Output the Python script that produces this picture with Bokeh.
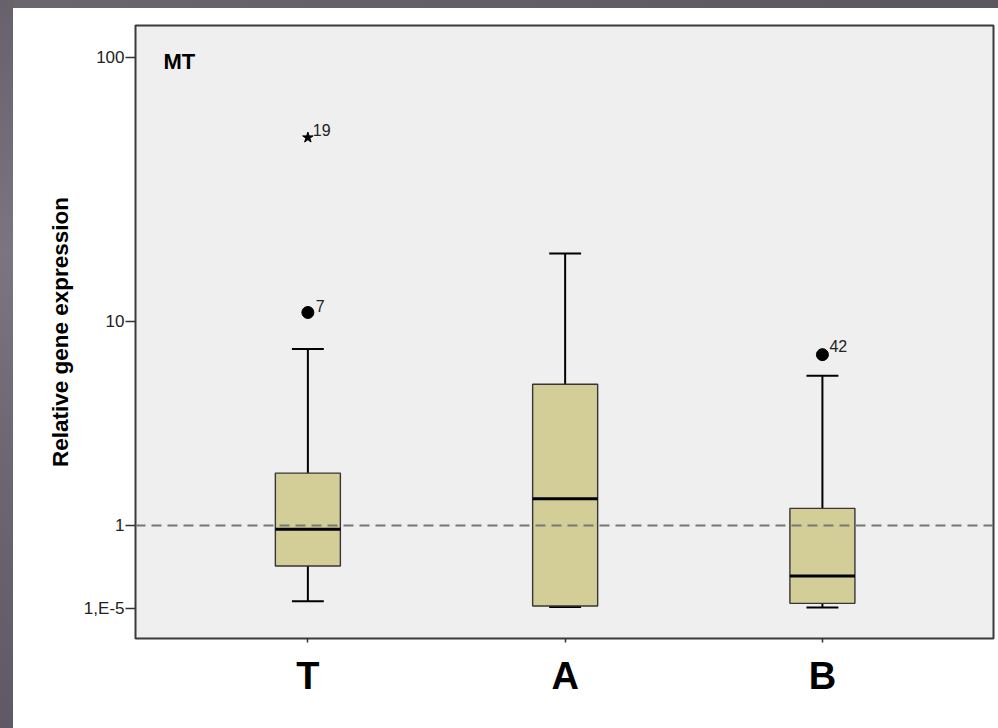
import numpy as np
from bokeh.plotting import figure
from bokeh.models import (Range1d, FixedTicker, CustomJSTickFormatter, Span,
                          Label, Spacer)
from bokeh.layouts import row, column
from bokeh.embed import file_html
from bokeh.resources import INLINE
from bokeh.core.properties import value

# ---- data -------------------------------------------------------------
groups = ["T", "A", "B"]
whisker_low = [0.059, 0.0106, 0.0046]
q1 = [0.423, 0.018, 0.041]
median = [0.935, 1.50, 0.309]
q3 = [2.10, 5.52, 1.307]
whisker_high = [7.76, 18.5, 6.01]

# outliers (circles) and extreme values (stars) with their case numbers
outlier_group = ["T", "B"]
outlier_value = [10.9, 7.36]
outlier_case = ["7", "42"]
extreme_group = ["T"]
extreme_value = [50.5]
extreme_case = ["19"]

tick_values = [1e-5, 1, 10, 100]
tick_labels = ["1,E-5", "1", "10", "100"]
reference_level = 1
panel_title = "MT"
y_title = "Relative gene expression"


def scale(v):
    """log(x + 1) scale used for the expression axis."""
    return np.log10(np.asarray(v, dtype=float) + 1.0)


FONT = "Liberation Sans"
BOX_FILL = "#d3ce98"
EDGE = "#363636"

xpos = np.arange(1, len(groups) + 1, dtype=float)
gidx = {g: i + 1 for i, g in enumerate(groups)}
box_w = 0.2527
cap_w = 0.124

p = figure(width=985, height=720,
           x_range=Range1d(0.33, 3.665), y_range=Range1d(-0.1104, 2.1195),
           output_backend="svg", toolbar_location=None,
           min_border_left=122, min_border_top=17,
           min_border_right=5, min_border_bottom=90,
           background_fill_color="#efefef", border_fill_color="white",
           outline_line_color="#3a3a3a", outline_line_width=2)
p.xgrid.visible = False
p.ygrid.visible = False

# whisker stems
p.segment(x0=xpos, y0=scale(whisker_low), x1=xpos, y1=scale(q1),
          line_color="black", line_width=2)
p.segment(x0=xpos, y0=scale(q3), x1=xpos, y1=scale(whisker_high),
          line_color="black", line_width=2)
# whisker caps
p.segment(x0=xpos - cap_w / 2, x1=xpos + cap_w / 2,
          y0=scale(whisker_low), y1=scale(whisker_low),
          line_color="black", line_width=2)
p.segment(x0=xpos - cap_w / 2, x1=xpos + cap_w / 2,
          y0=scale(whisker_high), y1=scale(whisker_high),
          line_color="black", line_width=2)
# boxes
p.quad(left=xpos - box_w / 2, right=xpos + box_w / 2,
       bottom=scale(q1), top=scale(q3),
       fill_color=BOX_FILL, line_color=EDGE, line_width=1.4)
# medians
p.segment(x0=xpos - box_w / 2, x1=xpos + box_w / 2,
          y0=scale(median), y1=scale(median),
          line_color="black", line_width=3)

# reference line at 1
p.add_layout(Span(location=float(scale(reference_level)), dimension="width",
                  line_color="#777777", line_width=2, line_dash="10 6"))

# outliers and extremes
ox = [gidx[g] for g in outlier_group]
ex = [gidx[g] for g in extreme_group]
p.scatter(x=ox, y=scale(outlier_value), size=12, marker="circle",
          fill_color="black", line_color="black")
p.scatter(x=ex, y=scale(extreme_value), size=11, marker="star",
          fill_color="black", line_color="black")
p.text(x=ox + ex, y=list(scale(outlier_value)) + list(scale(extreme_value)),
       text=outlier_case + extreme_case,
       x_offset=[8, 7, 5], y_offset=[-6, -9, -8],
       text_font=value(FONT), text_font_size="16px", text_color="#222222",
       text_baseline="alphabetic", text_align="left")

# panel title
p.add_layout(Label(x=0.4388, y=1.9885, text=panel_title,
                   text_font=FONT, text_font_size="22px",
                   text_font_style="bold", text_color="black",
                   text_baseline="alphabetic"))

nearest = """
let best = 0;
for (let i = 0; i < pos.length; i++) {
  if (Math.abs(pos[i] - tick) < Math.abs(pos[best] - tick)) best = i;
}
return labels[best];
"""

# y axis
ya = p.yaxis[0]
ya.ticker = FixedTicker(ticks=[float(t) for t in scale(tick_values)])
ya.formatter = CustomJSTickFormatter(
    args=dict(pos=[float(t) for t in scale(tick_values)], labels=tick_labels),
    code=nearest)
ya.axis_line_color = None
ya.major_tick_out = 10
ya.major_tick_in = 0
ya.minor_tick_line_color = None
ya.major_tick_line_color = "#333333"
ya.major_tick_line_width = 1.5
ya.major_label_standoff = 1
ya.major_label_text_font = FONT
ya.major_label_text_font_size = "17px"
ya.major_label_text_color = "#222222"
ya.axis_label = y_title
ya.axis_label_text_font = FONT
ya.axis_label_text_font_size = "22.5px"
ya.axis_label_text_font_style = "bold"
ya.axis_label_text_color = "black"
ya.axis_label_standoff = 8

# x axis
xa = p.xaxis[0]
xa.ticker = FixedTicker(ticks=list(xpos))
xa.formatter = CustomJSTickFormatter(
    args=dict(pos=list(xpos), labels=groups), code=nearest)
xa.axis_line_color = None
xa.major_tick_out = 4
xa.major_tick_in = 0
xa.minor_tick_line_color = None
xa.major_tick_line_color = "#333333"
xa.major_tick_line_width = 1.5
xa.major_label_standoff = 12
xa.major_label_text_font = FONT
xa.major_label_text_font_size = "38px"
xa.major_label_text_font_style = "bold"
xa.major_label_text_color = "black"

# dark frame around the white sheet
left_band = Spacer(width=13, height=728, styles={
    "background": "linear-gradient(to bottom, #66616b, #7a757e 35%, #6d6872 60%, #5e5964)"})
top_band = Spacer(width=985, height=8, styles={
    "background": "linear-gradient(to right, #6a656f, #5b5660)"})

root = row(left_band, column(top_band, p, spacing=0), spacing=0)

open("out.html", "w").write(file_html(root, INLINE))
